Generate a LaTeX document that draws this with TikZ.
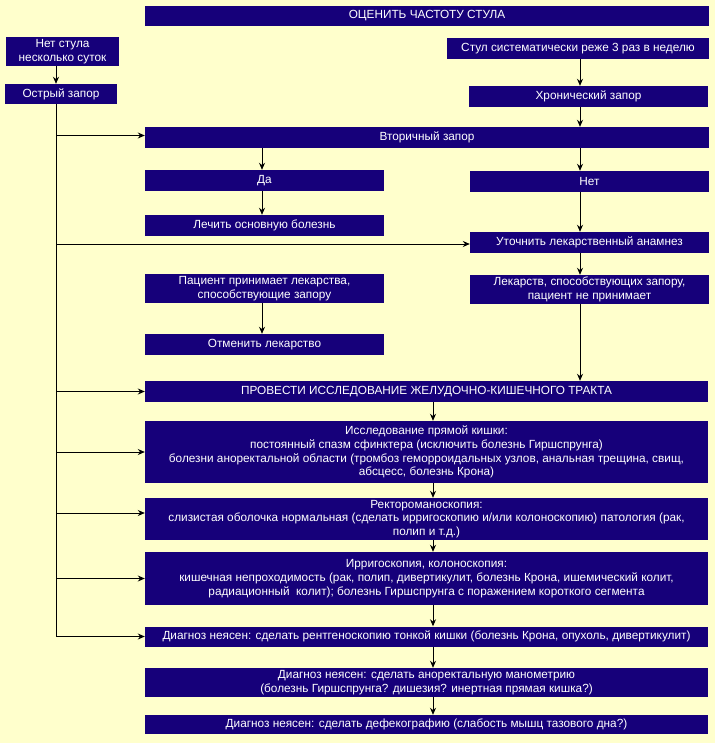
\documentclass[tikz,border=0pt]{standalone}
\usepackage{fontspec}
\setmainfont{Liberation Sans}
\usepackage{xcolor}
\usetikzlibrary{arrows.meta}
\definecolor{bgyellow}{RGB}{255,255,204}
\definecolor{boxnavy}{RGB}{22,0,122}

\begin{document}
\begin{tikzpicture}[
  x=1pt, y=-1pt,
  flowbox/.style={rectangle,fill=boxnavy,draw=none,text=white,inner sep=0pt,
    align=center,font=\fontsize{11.8}{13.8}\selectfont},
  wide/.style={minimum width=563pt},
  half/.style={minimum width=239pt},
  arrowline/.style={draw,line width=0.9pt,-{Stealth[length=7pt,width=6pt]}}
]

% Background
\fill[bgyellow] (0,0) rectangle (715,743);
\useasboundingbox (0,0) rectangle (715,743);

% Columns of the connectors
\coordinate (spine) at (56,0);
\coordinate (leftcol) at (262,0);
\coordinate (midcol) at (433,0);
\coordinate (rightcol) at (580,0);

% Top
\node[flowbox,minimum width=564pt,minimum height=20pt] (title) at (427,16) {ОЦЕНИТЬ ЧАСТОТУ СТУЛА};
\node[flowbox,minimum width=113pt,minimum height=29pt] (nostool) at (62.5,51.5) {Нет стула\\несколько суток};
\node[flowbox,minimum width=112pt,minimum height=20pt] (acute) at (61,94) {Острый запор};
\node[flowbox,minimum width=262pt,minimum height=21pt] (rare) at (578,48.5) {Стул систематически реже 3 раз в неделю};
\node[flowbox,half,minimum height=21pt] (chronic) at (588.5,96.5) {Хронический запор};
\node[flowbox,minimum width=564pt,minimum height=21pt] (secondary) at (427,137.5) {Вторичный запор};

% left branch
\node[flowbox,half,minimum height=21pt] (yes) at (264.5,180.5) {Да};
\node[flowbox,half,minimum height=21pt] (treat) at (264.5,225.5) {Лечить основную болезнь};
\node[flowbox,half,minimum height=29pt] (drugs) at (264.5,288.5) {Пациент принимает лекарства,\\способствующие запору};
\node[flowbox,half,minimum height=21pt] (cancel) at (264.5,344.5) {Отменить лекарство};

% right branch
\node[flowbox,half,minimum height=21pt] (no) at (589.5,181.5) {Нет};
\node[flowbox,half,minimum height=21pt] (history) at (589.5,242.5) {Уточнить лекарственный анамнез};
\node[flowbox,half,minimum height=29pt] (nodrugs) at (589.5,289.5) {Лекарств, способствующих запору,\\пациент не принимает};

% Examination
\node[flowbox,wide,minimum height=21pt] (gitract) at (426.5,391.5) {ПРОВЕСТИ ИССЛЕДОВАНИЕ ЖЕЛУДОЧНО-КИШЕЧНОГО ТРАКТА};
\node[flowbox,wide,minimum height=62pt] (rectum) at (426.5,452) {Исследование прямой кишки:\\постоянный спазм сфинктера (исключить болезнь Гиршспрунга)\\болезни аноректальной области (тромбоз геморроидальных узлов, анальная трещина, свищ,\\абсцесс, болезнь Крона)};
\node[flowbox,wide,minimum height=42pt] (sigmo) at (426.5,519) {Ректороманоскопия:\\слизистая оболочка нормальная (сделать ирригоскопию и/или колоноскопию) патология (рак,\\полип и т.д.)};
\node[flowbox,wide,minimum height=53pt] (irrigo) at (426.5,578.5) {Ирригоскопия, колоноскопия:\\кишечная непроходимость (рак, полип, дивертикулит, болезнь Крона, ишемический колит,\\радиационный\ \ колит); болезнь Гиршспрунга с поражением короткого сегмента};
\node[flowbox,wide,minimum height=20pt] (xray) at (426.5,636.5) {Диагноз неясен: сделать рентгеноскопию тонкой кишки (болезнь Крона, опухоль, дивертикулит)};
\node[flowbox,wide,minimum height=29pt] (mano) at (426.5,682.5) {Диагноз неясен: сделать аноректальную манометрию\\(болезнь Гиршспрунга? дишезия? инертная прямая кишка?)};
\node[flowbox,wide,minimum height=19pt] (defeco) at (426.5,724.5) {Диагноз неясен: сделать дефекографию (слабость мышц тазового дна?)};

% Connectors of the top
\draw[arrowline] (nostool.south -| spine) -- (acute.north -| spine);
\draw[arrowline] (rare.south -| rightcol) -- (chronic.north -| rightcol);
\draw[arrowline] (chronic.south -| rightcol) -- (secondary.north -| rightcol);
\draw[arrowline] (secondary.south -| leftcol) -- (yes.north -| leftcol);
\draw[arrowline] (yes.south -| leftcol) -- (treat.north -| leftcol);
\draw[arrowline] (drugs.south -| leftcol) -- (cancel.north -| leftcol);
\draw[arrowline] (secondary.south -| rightcol) -- (no.north -| rightcol);
\draw[arrowline] (no.south -| rightcol) -- (history.north -| rightcol);
\draw[arrowline] (history.south -| rightcol) -- (nodrugs.north -| rightcol);
\draw[arrowline] (nodrugs.south -| rightcol) -- (gitract.north -| rightcol);

% Spine on the left
\draw[arrowline] (acute.south -| spine) |- (xray.west);
\draw[arrowline] ([yshift=2pt]secondary.west -| spine) -- ([yshift=2pt]secondary.west);
\draw[arrowline] ([yshift=-1.5pt]history.west -| spine) -- ([yshift=-1.5pt]history.west);
\draw[arrowline] ([yshift=6pt]sigmo.west -| spine) -- ([yshift=6pt]sigmo.west);
\foreach \b in {gitract,rectum,irrigo}
  \draw[arrowline] (\b.west -| spine) -- (\b.west);

% Chain in the middle
\foreach \a/\b in {gitract/rectum,rectum/sigmo,sigmo/irrigo,irrigo/xray,xray/mano,mano/defeco}
  \draw[arrowline] (\a.south -| midcol) -- (\b.north -| midcol);

\end{tikzpicture}
\end{document}
